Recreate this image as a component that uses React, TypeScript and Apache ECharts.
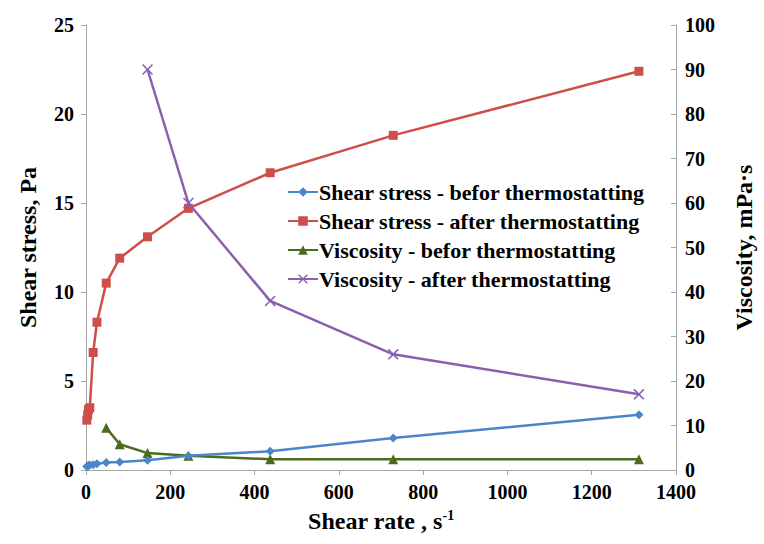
import React, { useEffect, useRef } from "react";
import * as echarts from "echarts";

const shearRate = [2, 4, 6, 9, 17, 26, 48, 80, 146, 243, 437, 729, 1312];
const stressBefore = [0.2, 0.22, 0.25, 0.28, 0.3, 0.35, 0.42, 0.45, 0.55, 0.8, 1.05, 1.8, 3.1];
const stressAfter = [2.8, 3.1, 3.4, 3.5, 6.6, 8.3, 10.5, 11.9, 13.1, 14.7, 16.7, 18.8, 22.4];
const viscRate = [48, 80, 146, 243, 437, 729, 1312];
const viscBefore = [9.5, 5.8, 3.8, 3.2, 2.4, 2.4, 2.4];
const viscAfterRate = [146, 243, 437, 729, 1312];
const viscAfter = [90, 60, 38, 26, 17];

const seriesNames = [
  "Shear stress - befor thermostatting",
  "Shear stress - after thermostatting",
  "Viscosity - befor thermostatting",
  "Viscosity - after thermostatting",
];

const FONT = "Liberation Serif";
const xSymbol =
  "path://M0,1 L1,0 L5,4 L9,0 L10,1 L6,5 L10,9 L9,10 L5,6 L1,10 L0,9 L4,5 Z";

const zip = (xs: number[], ys: number[]) => xs.map((x, i) => [x, ys[i]]);

export default function App() {
  const ref = useRef<HTMLDivElement>(null);
  useEffect(() => {
    if (!ref.current) return;
    const chart = echarts.init(ref.current, undefined, { renderer: "svg" });
    const axisLabel = { color: "#000", fontFamily: FONT, fontWeight: "bold", fontSize: 20 };
    const axisLine = { show: true, lineStyle: { color: "#a6a6a6", width: 1 } };
    const nameStyle = { color: "#000", fontFamily: FONT, fontWeight: "bold", fontSize: 24 };
    chart.setOption({
      animation: false,
      backgroundColor: "#fff",
      grid: { left: 86, right: 82, top: 25, bottom: 74 },
      legend: {
        orient: "vertical",
        left: 282,
        top: 176,
        itemWidth: 30,
        itemHeight: 12,
        itemGap: 7,
        data: seriesNames,
        textStyle: { color: "#000", fontFamily: FONT, fontWeight: "bold", fontSize: 22, padding: [0, 0, 0, -4] },
      },
      xAxis: {
        type: "value",
        min: 0,
        max: 1400,
        interval: 200,
        name: "{a|Shear rate , s}{b|-1}",
        nameLocation: "middle",
        nameGap: 38,
        nameTextStyle: {
          ...nameStyle,
          rich: {
            a: { ...nameStyle },
            b: { ...nameStyle, fontSize: 14, padding: [0, 0, 12, 0] },
          },
        },
        axisLine,
        axisTick: { show: true, inside: false, length: 5, lineStyle: { color: "#a6a6a6" } },
        axisLabel: { ...axisLabel, margin: 12, formatter: (v: number) => String(v) },
        splitLine: { show: false },
      },
      yAxis: [
        {
          type: "value",
          min: 0,
          max: 25,
          interval: 5,
          name: "Shear stress, Pa",
          nameLocation: "middle",
          nameGap: 46,
          nameTextStyle: nameStyle,
          axisLine,
          axisTick: { show: true, inside: false, length: 5, lineStyle: { color: "#a6a6a6" } },
          axisLabel: { ...axisLabel, margin: 12 },
          splitLine: { show: false },
        },
        {
          type: "value",
          min: 0,
          max: 100,
          interval: 10,
          position: "right",
          name: "Viscosity, mPa·s",
          nameLocation: "middle",
          nameGap: 56,
          nameTextStyle: nameStyle,
          axisLine,
          axisTick: { show: true, inside: true, length: 5, lineStyle: { color: "#a6a6a6" } },
          axisLabel: { ...axisLabel, margin: 9 },
          splitLine: { show: false },
        },
      ],
      series: [
        {
          name: seriesNames[0],
          type: "line",
          yAxisIndex: 0,
          data: zip(shearRate, stressBefore),
          symbol: "diamond",
          symbolSize: 9,
          lineStyle: { color: "#4a86c8", width: 2.5 },
          itemStyle: { color: "#4a86c8" },
          z: 3,
        },
        {
          name: seriesNames[1],
          type: "line",
          yAxisIndex: 0,
          data: zip(shearRate, stressAfter),
          symbol: "rect",
          symbolSize: 9,
          lineStyle: { color: "#cf4e4a", width: 2.5 },
          itemStyle: { color: "#cf4e4a" },
          z: 4,
        },
        {
          name: seriesNames[2],
          type: "line",
          yAxisIndex: 1,
          data: zip(viscRate, viscBefore),
          symbol: "triangle",
          symbolSize: 10,
          lineStyle: { color: "#4b6b1e", width: 2.5 },
          itemStyle: { color: "#4b6b1e" },
          z: 2,
        },
        {
          name: seriesNames[3],
          type: "line",
          yAxisIndex: 1,
          data: zip(viscAfterRate, viscAfter),
          symbol: xSymbol,
          symbolSize: 11,
          lineStyle: { color: "#8a5fb0", width: 2.5 },
          itemStyle: { color: "#8a5fb0" },
          z: 5,
        },
      ],
    });
    return () => chart.dispose();
  }, []);
  return (
    <div
      ref={ref}
      style={{ position: "absolute", left: 0, top: 0, width: 764, height: 544, overflow: "hidden" }}
    />
  );
}
